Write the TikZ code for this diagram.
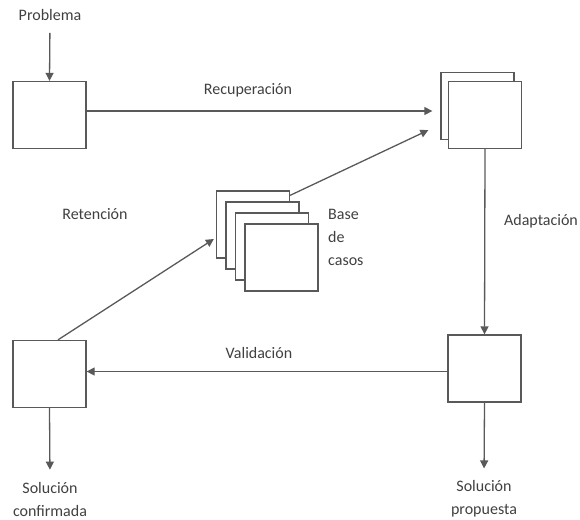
\documentclass[tikz,border=0pt]{standalone}
\usepackage{fontspec}
\setmainfont{Carlito}
\usetikzlibrary{calc,arrows.meta}

\definecolor{linea}{HTML}{595959}
\definecolor{texto}{HTML}{404040}

\tikzset{
  caja/.style={draw=linea,line width=1.3pt,fill=white,minimum width=73pt,minimum height=67pt,inner sep=0pt},
  flecha/.style={draw=linea,line width=1.3pt,-{Triangle[length=8pt,width=8pt]}},
  etiqueta/.style={text=texto,font=\fontsize{16}{23}\selectfont,inner sep=0pt}
}

\begin{document}
\begin{tikzpicture}[x=1pt,y=-1pt]

   \useasboundingbox (0,0) rectangle (580,519);

   % cajas
   \node[caja] (prob) at (49.5,115) {};
   \node[caja] (rec2) at (477.5,106) {};
   \node[caja] (rec1) at (485,115) {};

   \node[caja] (base1) at (253,224.5) {};
   \node[caja] (base2) at (262.5,235.5) {};
   \node[caja] (base3) at (272,246.5) {};
   \node[caja] (base4) at (281.5,257.5) {};

   \node[caja] (conf) at (49.5,374) {};
   \node[caja] (prop) at (484.5,368.5) {};

   % textos
   \node[etiqueta] (problema) at (50,15) {Problema};
   \node[etiqueta] (lrec) at (248,90) {Recuperación};
   \node[etiqueta] (lret) at (95,214) {Retención};
   \node[etiqueta] (lada) at (541,221) {Adaptación};
   \node[etiqueta] (lval) at (259,353) {Validación};
   \node[etiqueta,anchor=west,align=left] (lbase) at (328,237) {Base\\de\\casos};
   \node[etiqueta,align=center] (solconf) at (50,499) {Solución\\confirmada};
   \node[etiqueta,align=center] (solprop) at (484,499) {Solución\\propuesta};

   \coordinate (t1) at ($(rec2.south west) + (-12,-10)$);
   \coordinate (t2) at ($(base1.west) + (-2,14.5)$);

   % flechas
   \draw[flecha,shorten <=12pt] (problema.south) -- (prob.north);
   \draw[flecha,shorten >=8pt] ([yshift=4pt]prob.east) -- ([yshift=4pt]prob.east -| rec2.west);
   \draw[flecha] ([yshift=-5pt]base1.north east) -- (t1);
   \draw[flecha] ([xshift=8.5pt]conf.north) -- (t2);
   \draw[flecha] (rec1.south) -- (prop.north);
   \draw[flecha] ([yshift=-3pt]prop.west) -- ([yshift=-3pt]prop.west -| conf.east);
   \draw[flecha,shorten >=12pt] (conf.south) -- (solconf.north);
   \draw[flecha,shorten >=12pt] (prop.south) -- (solprop.north);

\end{tikzpicture}
\end{document}
